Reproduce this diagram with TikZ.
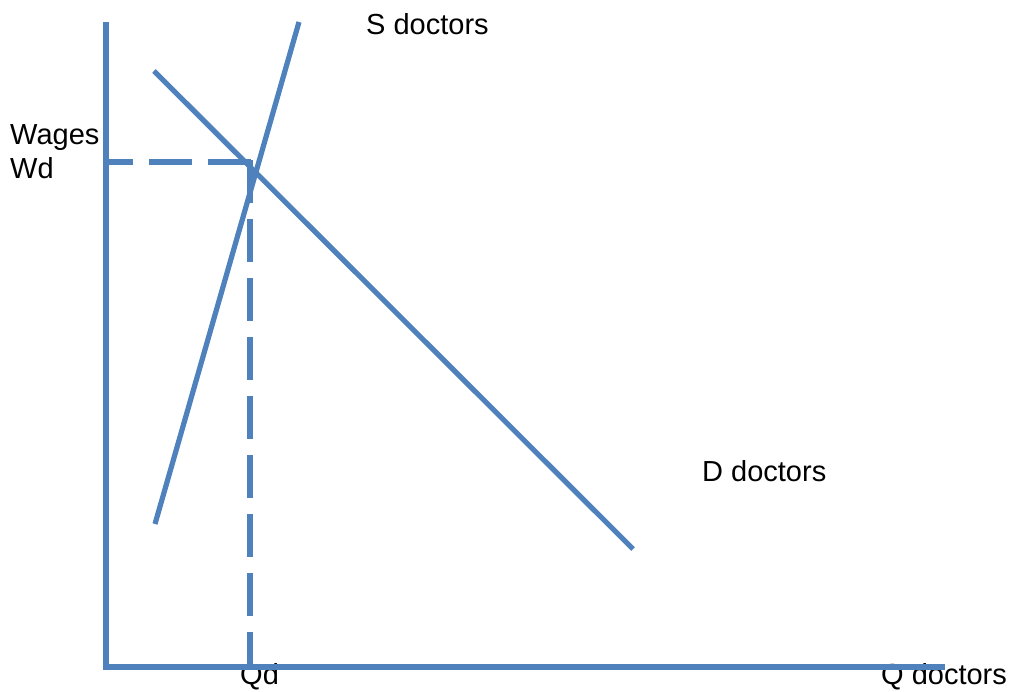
\documentclass[tikz,border=0pt]{standalone}
\usepackage{fontspec}
\setmainfont{Liberation Sans}
\definecolor{lineblue}{HTML}{4F81BD}
\tikzset{
  curve/.style={draw=lineblue, line width=5.2pt, line cap=butt},
  guide/.style={draw=lineblue, line width=5.2pt, dash pattern=on 43pt off 16pt},
  lbl/.style={anchor=base west, inner sep=0pt, text=black, font=\fontsize{29}{34}\selectfont}
}
\begin{document}
\begin{tikzpicture}[x=1pt, y=-1pt]
\useasboundingbox (0,0) rectangle (1012,692);
% labels
\node[lbl] (wages) at (10,145) {Wages};
\node[lbl] (wd) at (10,179) {Wd};
\node[lbl] (sdoc) at (366,35) {S doctors};
\node[lbl] (ddoc) at (702,481) {D doctors};
\node[lbl] (qd) at (240,684) {Qd};
\node[lbl] (qdoc) at (881,684) {Q doctors};
% coordinates
\coordinate (ytop) at (106,22);
\coordinate (origin) at (106,667);
\coordinate (xend) at (945,667);
\coordinate (s0) at (155,524);
\coordinate (s1) at (299,22);
\coordinate (d0) at (154,71);
\coordinate (d1) at (633,549);
\coordinate (wy) at (106,162);
\coordinate (eqh) at (251,162);
\coordinate (eqv) at (250,160);
\coordinate (qx) at (250,667);
% dashed guides
\draw[guide, dash phase=16pt] (wy) -- (eqh);
\draw[guide] (eqv) -- (qx);
% curves
\draw[curve] (s0) -- (s1);
\draw[curve] (d0) -- (d1);
% axes
\draw[curve] (ytop) -- (origin) -- (xend);
\end{tikzpicture}
\end{document}
